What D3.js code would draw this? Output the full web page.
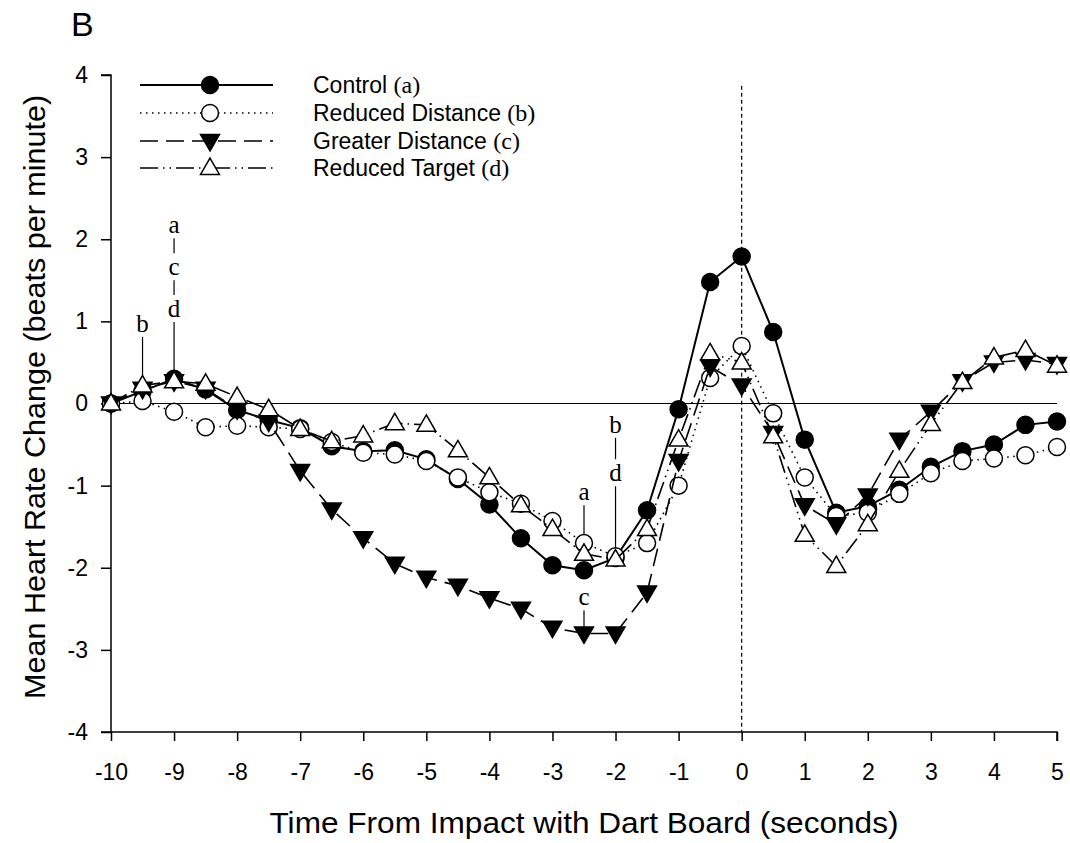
<!DOCTYPE html>
<html>
<head>
  <meta charset="utf-8">
  <title>Heart rate change</title>
  <script src="https://cdn.jsdelivr.net/npm/d3@7/dist/d3.min.js"></script>
  <style>
    body { margin: 0; background: #fff; }
    text { font-family: Arial, "Liberation Sans", sans-serif; fill: #000; }
    .serif { font-family: "Times New Roman", "Liberation Serif", serif; }
  </style>
</head>
<body>
<div id="chart"></div>
<script>
  // time points, -10 .. 5 in half seconds
  var times = d3.range(-10, 5.01, 0.5);

  var control =   [0, 0.15, 0.3, 0.17, -0.08, -0.2, -0.3, -0.52, -0.58, -0.57, -0.68, -0.92, -1.23, -1.64, -1.97, -2.03, -1.88, -1.3, -0.07,
                   1.48, 1.79, 0.87, -0.44, -1.33, -1.25, -1.05, -0.77, -0.58, -0.5, -0.26, -0.22];
  var reducedDist = [0, 0.03, -0.1, -0.29, -0.27, -0.29, -0.31, -0.47, -0.6, -0.62, -0.7, -0.9, -1.08, -1.22, -1.43, -1.7, -1.86, -1.7, -1.0,
                   0.31, 0.7, -0.12, -0.9, -1.37, -1.33, -1.1, -0.85, -0.7, -0.67, -0.63, -0.53];
  var greaterDist = [0, 0.18, 0.27, 0.18, -0.07, -0.22, -0.82, -1.29, -1.64, -1.95, -2.12, -2.22, -2.37, -2.5, -2.73, -2.8, -2.8, -2.3, -0.7,
                   0.45, 0.22, -0.36, -1.24, -1.47, -1.12, -0.44, -0.1, 0.27, 0.5, 0.53, 0.48];
  var reducedTarget = [0, 0.22, 0.27, 0.24, 0.08, -0.07, -0.31, -0.46, -0.39, -0.24, -0.26, -0.57, -0.9, -1.24, -1.53, -1.83, -1.9, -1.53, -0.44,
                   0.61, 0.5, -0.4, -1.6, -1.98, -1.47, -0.82, -0.25, 0.26, 0.56, 0.65, 0.46];

  var seriesNames = ['Control', 'Reduced Distance', 'Greater Distance', 'Reduced Target'];
  var seriesKeys = ['(a)', '(b)', '(c)', '(d)'];
  var xTicks = d3.range(-10, 6, 1);
  var yTicks = d3.range(-4, 5, 1);

  // significance letters: time, then [letter, level in bpm] top->bottom, side
  var marks = [
    [-9.5, [['b', 0.97]], 'up'],
    [-9, [['a', 2.17], ['c', 1.66], ['d', 1.15]], 'up'],
    [-2.5, [['a', -1.08]], 'up'],
    [-2, [['b', -0.26], ['d', -0.85]], 'up'],
    [-2.5, [['c', -2.36]], 'down']
  ];

  var w = 1070, h = 843;
  var svg = d3.select('#chart').append('svg')
      .attr('width', w)
      .attr('height', h);

  var x = d3.scaleLinear().domain([-10, 5]).range([111, 1057]);
  var y = d3.scaleLinear().domain([-4, 4]).range([732, 75]);

  var styles = [
    {dash: null, shape: 'circle', fill: '#000'},
    {dash: '1.5,4.5', shape: 'circle', fill: '#fff'},
    {dash: '18,8', shape: 'down', fill: '#000'},
    {dash: '18,5,1.5,5,1.5,5', shape: 'up', fill: '#fff'}
  ];
  var allData = [control, reducedDist, greaterDist, reducedTarget];

  var fmt = function(d){ return String(d); };

  // axes
  var xAxis = svg.append('g')
      .attr('transform', 'translate(0,' + y(-4) + ')')
      .call(d3.axisBottom(x).tickValues(xTicks).tickSize(9).tickPadding(23).tickFormat(fmt));
  var yAxis = svg.append('g')
      .attr('transform', 'translate(' + x(-10) + ',0)')
      .call(d3.axisLeft(y).tickValues(yTicks).tickSize(10).tickPadding(13).tickFormat(fmt));
  [xAxis, yAxis].forEach(function(a){
    a.select('.domain').attr('stroke', '#000').attr('stroke-width', 1.5)
    a.selectAll('.tick line').attr('stroke', '#000').attr('stroke-width', 1.5);
    a.selectAll('text').style('font-size', '23px').style('font-family', 'Arial, "Liberation Sans", sans-serif').attr('fill', '#000');
  });
  xAxis.select('.domain').attr('d', 'M' + (x(-10) - 10) + ',0H' + x(5) + 'V9');
  yAxis.select('.domain').attr('d', 'M-10,' + y(4) + 'H0V' + y(-4));

  // zero reference lines
  svg.append('line')
      .attr('x1', x(-10)).attr('x2', x(5))
      .attr('y1', y(0)).attr('y2', y(0))
      .attr('stroke', '#000').attr('stroke-width', 1.2);
  svg.append('line')
      .attr('x1', x(0)).attr('x2', x(0))
      .attr('y1', y(3.87)).attr('y2', y(-4))
      .attr('stroke', '#000').attr('stroke-width', 1.2)
      .attr('stroke-dasharray', '4,3');

  var line = d3.line()
      .x(function(d, i){ return x(times[i]); })
      .y(function(d){ return y(d); });

  function drawMarker(g, shape, fill, cx, cy){
    if (shape === 'circle') {
      g.append('circle').attr('cx', cx).attr('cy', cy).attr('r', 8.5)
          .attr('fill', fill).attr('stroke', '#000').attr('stroke-width', 1.5);
    } else {
      var sym = d3.symbol().type(d3.symbolTriangle).size(155);
      g.append('path').attr('d', sym())
          .attr('transform', 'translate(' + cx + ',' + (cy + (shape === 'down' ? -1 : 1)) + ')' + (shape === 'down' ? ' rotate(180)' : ''))
          .attr('fill', fill).attr('stroke', '#000').attr('stroke-width', 1.5);
    }
  }

  // annotation stems + letters, behind the data
  var ann = svg.append('g');
  marks.forEach(function(m){
    var t = m[0], letters = m[1], side = m[2];
    var i = times.indexOf(t);
    var px = x(t);
    var vals = allData.map(function(s){ return y(s[i]); });
    var first = y(letters[0][1]);
    var end = side === 'up' ? d3.min(vals) - 2 : d3.max(vals) - 6;
    ann.append('line').attr('x1', px).attr('x2', px)
        .attr('y1', first).attr('y2', end)
        .attr('stroke', '#000').attr('stroke-width', 1.2);
    letters.forEach(function(l){
      var cy = y(l[1]);
      ann.append('rect').attr('x', px - 8).attr('y', cy - 14).attr('width', 16).attr('height', 27).attr('fill', '#fff');
      ann.append('text').attr('class', 'serif').attr('x', px).attr('y', cy + 8)
          .attr('text-anchor', 'middle').style('font-size', '25px').text(l[0]);
    });
  });

  // series
  allData.forEach(function(s, k){
    var st = styles[k];
    var g = svg.append('g');
    g.append('path').datum(s)
        .attr('d', line)
        .attr('fill', 'none').attr('stroke', '#000')
        .attr('stroke-width', k === 0 ? 2 : 1.6)
        .attr('stroke-dasharray', st.dash);
    s.forEach(function(v, i){ drawMarker(g, st.shape, st.fill, x(times[i]), y(v)); });
  });

  // legend
  var legend = svg.append('g');
  var legY = [85, 113, 141, 168];
  seriesNames.forEach(function(n, k){
    var st = styles[k];
    legend.append('line').attr('x1', 140).attr('x2', 273)
        .attr('y1', legY[k]).attr('y2', legY[k])
        .attr('stroke', '#000').attr('stroke-width', k === 0 ? 2 : 1.6)
        .attr('stroke-dasharray', st.dash);
    drawMarker(legend, st.shape, st.fill, 210, legY[k]);
    var t = legend.append('text').attr('x', 313).attr('y', legY[k] + 8).style('font-size', '23px');
    t.append('tspan').text(n + ' ');
    t.append('tspan').attr('class', 'serif').style('font-size', '24px').text(seriesKeys[k]);
  });

  // titles
  svg.append('text').attr('x', 71).attr('y', 36).style('font-size', '34px').text('B');
  svg.append('text')
      .attr('transform', 'translate(45,' + y(0.08) + ') rotate(-90)')
      .attr('text-anchor', 'middle').style('font-size', '30px')
      .attr('textLength', 604).attr('lengthAdjust', 'spacingAndGlyphs')
      .text('Mean Heart Rate Change (beats per minute)');
  svg.append('text')
      .attr('x', x(-2.5)).attr('y', 833)
      .attr('text-anchor', 'middle').style('font-size', '30px')
      .attr('textLength', 629).attr('lengthAdjust', 'spacingAndGlyphs')
      .text('Time From Impact with Dart Board (seconds)');
</script>
</body>
</html>
